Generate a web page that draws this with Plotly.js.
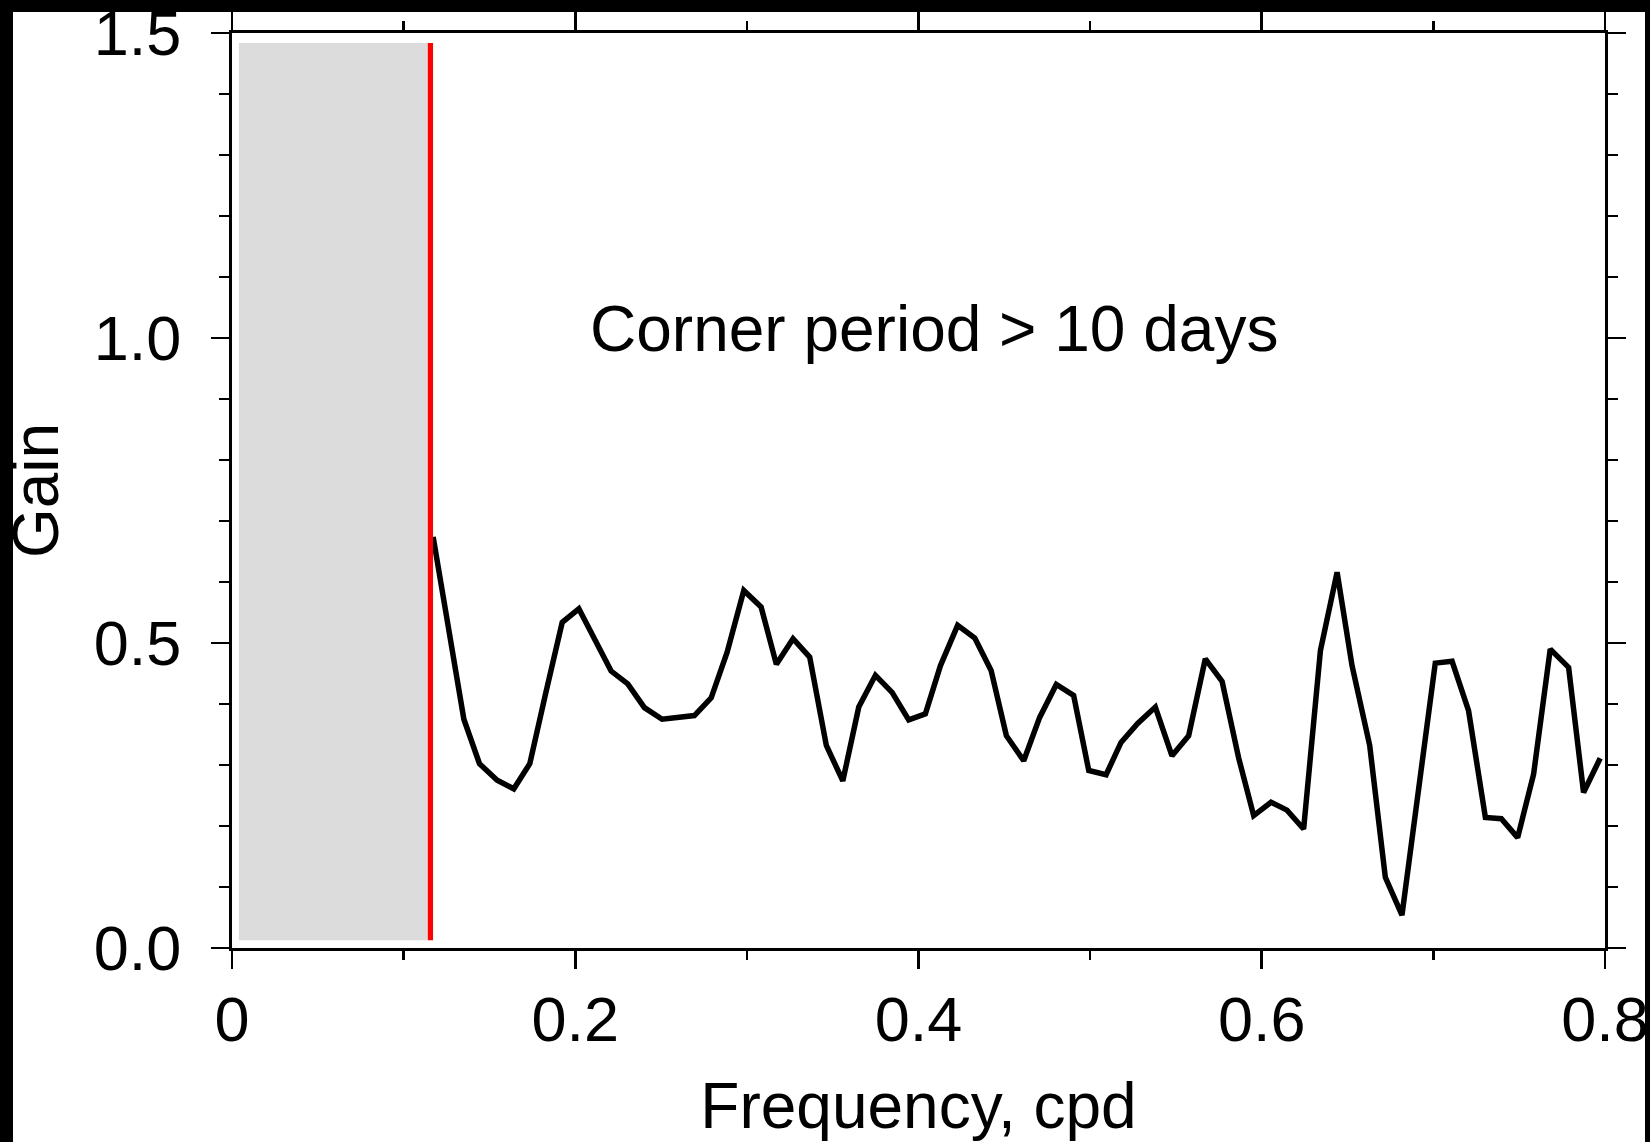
<!DOCTYPE html>
<html>
<head>
<meta charset="utf-8">
<script src="https://cdn.plot.ly/plotly-3.0.1.min.js"></script>
<style>
  html, body { margin: 0; padding: 0; background: #fff; width: 1650px; height: 1142px; overflow: hidden; }
  #chart { position: absolute; left: 0; top: 0; width: 1650px; height: 1142px; }
  .edge { position: absolute; background: #000; z-index: 10; }
</style>
</head>
<body>
<div id="chart"></div>
<div class="edge" style="left:0;top:0;width:1650px;height:12px"></div>
<div class="edge" style="left:0;top:0;width:13px;height:1142px"></div>
<div class="edge" style="left:1645px;top:0;width:5px;height:1142px"></div>
<script>
// Frequency (cycles per day) and gain
const frequency = [
  0.1172, 0.1351, 0.1442, 0.1545, 0.1642, 0.1735, 0.1828, 0.1924, 0.2021, 0.2118,
  0.2209, 0.2306, 0.2403, 0.2506, 0.2603, 0.2694, 0.2792, 0.2885, 0.2982, 0.3083,
  0.3172, 0.3269, 0.3366, 0.3463, 0.3559, 0.3652, 0.3749, 0.3846, 0.3943, 0.4040,
  0.4128, 0.4228, 0.4328, 0.4423, 0.4512, 0.4613, 0.4706, 0.4803, 0.4904, 0.4992,
  0.5093, 0.5180, 0.5277, 0.5380, 0.5477, 0.5574, 0.5671, 0.5769, 0.5865, 0.5953,
  0.6054, 0.6147, 0.6244, 0.6342, 0.6439, 0.6526, 0.6629, 0.6720, 0.6817, 0.6914,
  0.7011, 0.7109, 0.7205, 0.7303, 0.7396, 0.7491, 0.7584, 0.7681, 0.7788, 0.7875,
  0.7972
];
const gain = [
  0.674, 0.375, 0.302, 0.275, 0.261, 0.302, 0.418, 0.534, 0.556, 0.504,
  0.454, 0.433, 0.394, 0.375, 0.377, 0.381, 0.410, 0.485, 0.586, 0.559,
  0.465, 0.507, 0.477, 0.332, 0.274, 0.395, 0.447, 0.419, 0.374, 0.384,
  0.463, 0.529, 0.508, 0.455, 0.348, 0.307, 0.378, 0.432, 0.414, 0.291,
  0.284, 0.337, 0.368, 0.395, 0.315, 0.348, 0.474, 0.437, 0.312, 0.217,
  0.239, 0.226, 0.195, 0.488, 0.616, 0.463, 0.332, 0.116, 0.054, 0.261,
  0.467, 0.470, 0.389, 0.214, 0.212, 0.181, 0.285, 0.490, 0.460, 0.255,
  0.311
];
// Excluded (long-period) band and the corner frequency marker
const bandFreq = [0.004, 0.1139];
const bandGain = [0.0126, 1.4837];
const cornerFreq = 0.1156;
const noteText = 'Corner period > 10 days';
const noteAt = [0.409, 1.015];
const xTitle = 'Frequency, cpd';
const yTitle = 'Gain';

const FONT = 'Liberation Sans, Arial, Helvetica, sans-serif';

const trace = {
  x: frequency, y: gain, type: 'scatter', mode: 'lines',
  line: { color: '#000', width: 5.5 },
  hoverinfo: 'x+y', showlegend: false
};

const axisCommon = {
  showgrid: false, zeroline: false, showline: true,
  linecolor: '#000', linewidth: 3,
  mirror: 'allticks',
  ticks: 'outside', ticklen: 18, tickwidth: 2.7, tickcolor: '#000',
  tickfont: { family: FONT, size: 63, color: '#000' },
  ticklabeloverflow: 'allow',
  automargin: false, fixedrange: true
};

const layout = {
  width: 1650, height: 1142,
  paper_bgcolor: '#fff', plot_bgcolor: '#fff',
  margin: { l: 232, r: 44.5, t: 33, b: 194 },
  font: { family: FONT, color: '#000' },
  showlegend: false,
  xaxis: Object.assign({}, axisCommon, {
    range: [0, 0.8], dtick: 0.2, tick0: 0,
    ticklabelstandoff: -4,
    minor: { dtick: 0.1, ticks: 'outside', ticklen: 9, tickwidth: 2.7, tickcolor: '#000' },
    title: { text: xTitle, font: { family: FONT, size: 64, color: '#000' }, standoff: 46 }
  }),
  yaxis: Object.assign({}, axisCommon, {
    range: [0, 1.5], dtick: 0.5, tick0: 0, tickformat: '.1f',
    ticklabelstandoff: 17,
    minor: { dtick: 0.1, ticks: 'outside', ticklen: 10, tickwidth: 2.7, tickcolor: '#000' },
    title: { text: yTitle, font: { family: FONT, size: 64, color: '#000' }, standoff: 24 }
  }),
  shapes: [
    { type: 'rect', xref: 'x', yref: 'y', layer: 'below',
      x0: bandFreq[0], x1: bandFreq[1], y0: bandGain[0], y1: bandGain[1],
      fillcolor: '#dcdcdc', line: { width: 0 } },
    { type: 'line', xref: 'x', yref: 'y',
      x0: cornerFreq, x1: cornerFreq, y0: bandGain[0], y1: bandGain[1],
      line: { color: '#ff0000', width: 5.3 } }
  ],
  annotations: [
    { x: noteAt[0], y: noteAt[1], xref: 'x', yref: 'y', text: noteText,
      showarrow: false, xanchor: 'center', yanchor: 'middle',
      font: { family: FONT, size: 64, color: '#000' } }
  ]
};

Plotly.newPlot('chart', [trace], layout, { staticPlot: true, displayModeBar: false });
</script>
</body>
</html>
